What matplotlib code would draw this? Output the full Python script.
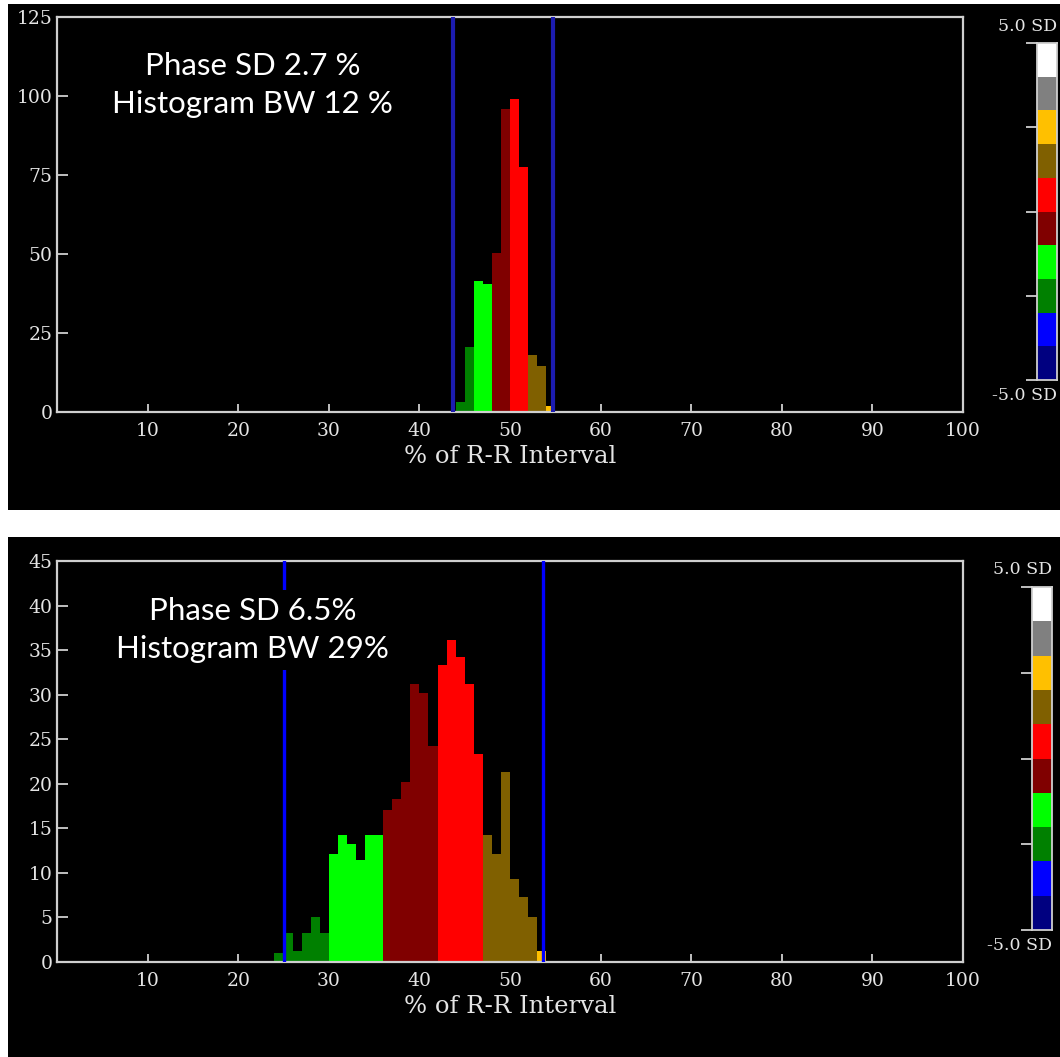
import matplotlib.pyplot as plt
import numpy as np
from matplotlib.colors import ListedColormap
from matplotlib.patches import Rectangle

# Histogram data (bin left edge in % of R-R interval, bin height)
top_bins = [44, 45, 46, 47, 48, 49, 50, 51, 52, 53, 54]
top_counts = [3.3, 20.7, 41.3, 40.6, 50.3, 95.8, 99.2, 77.6, 18.1, 14.4, 2]
top_groups = ['dg', 'dg', 'lime', 'lime', 'dr', 'dr', 'red', 'red', 'olive', 'olive', 'gold']
top_limits = [43.7, 54.7]
top_lines = ['Phase SD 2.7 %', 'Histogram BW 12 %']

bot_bins = list(range(24, 54))
bot_counts = [1, 3.2, 1.2, 3.2, 5.1, 3.2, 12.1, 14.3, 13.2, 11.4, 14.3, 14.3,
              17.1, 18.3, 20.2, 31.2, 30.2, 24.2, 33.3, 36.1, 34.2, 31.2, 23.3,
              14.3, 12.1, 21.3, 9.3, 7.3, 5.1, 1.2]
bot_groups = ['dg'] * 6 + ['lime'] * 6 + ['dr'] * 6 + ['red'] * 5 + ['olive'] * 6 + ['gold']
bot_limits = [25.0, 53.6]
bot_lines = ['Phase SD 6.5%', 'Histogram BW 29%']

x_ticks = [10, 20, 30, 40, 50, 60, 70, 80, 90, 100]
top_yticks = [0, 25, 50, 75, 100, 125]
bot_yticks = [0, 5, 10, 15, 20, 25, 30, 35, 40, 45]

# SD scale colours, bottom (-5 SD) to top (+5 SD)
sd_colors = ['#000080', '#0000ff', '#008000', '#00ff00', '#800000',
             '#ff0000', '#806000', '#ffc000', '#808080', '#ffffff']
group_color = {'dg': '#008000', 'lime': '#00ff00', 'dr': '#800000',
               'red': '#ff0000', 'olive': '#806000', 'gold': '#ffc000'}

W, H = 1060, 1057
fig = plt.figure(figsize=(W / 100, H / 100), dpi=100, facecolor='white')


def box(x0, y0, x1, y1):
    # pixel box (from top-left) -> figure fraction [l, b, w, h]
    return [x0 / W, 1 - y1 / H, (x1 - x0) / W, (y1 - y0) / H]


# black panels
for (x0, y0, x1, y1) in [(8, 4, 1060, 510), (8, 537, 1060, 1057)]:
    l, b, w, h = box(x0, y0, x1, y1)
    fig.patches.append(Rectangle((l, b), w, h, transform=fig.transFigure,
                                 facecolor='black', edgecolor='none', zorder=-5))

frame = '#cfcfcf'
txt = '#e4e4e4'
serif = 'DejaVu Serif'


def panel(rect, bins, counts, groups, limits, ymax, yticks, lines, line_col, line_w):
    ax = fig.add_axes(rect)
    ax.set_facecolor('black')
    ax.bar(bins, counts, width=1, align='edge',
           color=[group_color[g] for g in groups], linewidth=0, zorder=2)
    for v in limits:
        ax.axvline(v, color=line_col, lw=line_w, zorder=3)
    ax.set_xlim(0, 100)
    ax.set_ylim(0, ymax)
    ax.set_xticks(x_ticks)
    ax.set_yticks(yticks)
    ax.tick_params(direction='in', color=frame, width=1.3, length=6,
                   labelcolor=txt)
    ax.tick_params(axis='x', pad=7)
    ax.tick_params(axis='y', length=8, pad=3)
    for lab in ax.get_xticklabels() + ax.get_yticklabels():
        lab.set_fontfamily(serif)
        lab.set_fontsize(13.5)
    for s in ax.spines.values():
        s.set_color(frame)
        s.set_linewidth(1.6)
    ax.set_xlabel('% of R-R Interval', fontfamily=serif,
                  fontsize=17.5, color=txt, labelpad=4)
    ax.text(0.216, 0.828, lines[0] + '\n' + lines[1], transform=ax.transAxes,
            ha='center', va='center', fontfamily='Lato', fontsize=22.5,
            color='white', linespacing=1.42, zorder=5,
            bbox=dict(facecolor='black', edgecolor='none', pad=5))
    return ax


ax1 = panel(box(57, 17, 963, 412), top_bins, top_counts, top_groups, top_limits,
            125, top_yticks, top_lines, '#1c1cb0', 3.0)
ax2 = panel(box(57, 561, 963, 962), bot_bins, bot_counts, bot_groups, bot_limits,
            45, bot_yticks, bot_lines, '#0000ff', 2.4)


def sd_bar(rect):
    cax = fig.add_axes(rect)
    cax.imshow(np.arange(10).reshape(10, 1), cmap=ListedColormap(sd_colors),
               origin='lower', aspect='auto', extent=(0, 1, -5, 5),
               interpolation='nearest')
    cax.set_xticks([])
    cax.set_yticks([-5, -2.5, 0, 2.5, 5])
    cax.set_yticklabels([])
    cax.tick_params(axis='y', direction='out', length=8, width=1.3, color=frame)
    for s in cax.spines.values():
        s.set_color(frame)
        s.set_linewidth(1.3)
    cax.text(1.0, 1.025, '5.0 SD', transform=cax.transAxes, ha='right', va='bottom',
             fontfamily=serif, fontsize=12.5, color=txt)
    cax.text(1.0, -0.02, '-5.0 SD', transform=cax.transAxes, ha='right', va='top',
             fontfamily=serif, fontsize=12.5, color=txt)
    return cax


sd_bar(box(1037, 43, 1057, 380))
sd_bar(box(1032, 587, 1052, 930))

plt.savefig('out.png', dpi=100, facecolor='white')
